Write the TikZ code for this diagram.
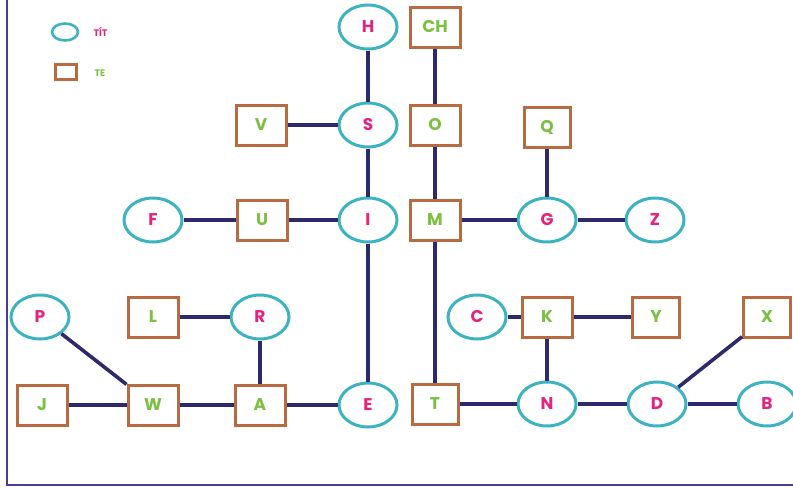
\documentclass[tikz,border=0pt]{standalone}
\usepackage{fontspec}
\setmainfont{Poppins}
\usetikzlibrary{shapes.geometric}
\definecolor{edgec}{HTML}{2C2A6A}
\definecolor{ellc}{HTML}{3DB3C2}
\definecolor{rectc}{HTML}{B86B40}
\definecolor{pinkc}{HTML}{E2247E}
\definecolor{greenc}{HTML}{7CC043}
\definecolor{framec}{HTML}{4A3C98}
\tikzset{
  tit/.style={ellipse, draw=ellc, line width=3pt, fill=white, minimum width=58pt, minimum height=44pt, inner sep=0pt, text=pinkc, font=\fontsize{17}{17}\selectfont\bfseries},
  te/.style={rectangle, draw=rectc, line width=3pt, fill=white, minimum width=50pt, minimum height=40pt, inner sep=0pt, text=greenc, font=\fontsize{17}{17}\selectfont\bfseries},
  link/.style={draw=edgec, line width=3.6pt},
}
\begin{document}
\begin{tikzpicture}[x=1pt,y=-1pt]
\useasboundingbox (0,0) rectangle (793,488);
\draw[framec, line width=2.5pt] (7,0) -- (7,485) -- (793,485);
% legend
\node[ellipse, draw=ellc, line width=2.6pt, minimum width=26pt, minimum height=17pt, inner sep=0pt] (legT) at (65,32) {};
\node[text=pinkc, font=\fontsize{9.5}{9.5}\selectfont\bfseries, anchor=west] (legTt) at (90,32) {TÍT};
\node[rectangle, draw=rectc, line width=2.6pt, minimum width=21pt, minimum height=15pt, inner sep=0pt] (legR) at (66,72) {};
\node[text=greenc, font=\fontsize{9.5}{9.5}\selectfont\bfseries, anchor=west] (legRt) at (91,73) {TE};
% nodes
\node[tit] (H) at (368,27) {H};
\node[te] (CH) at (435,27) {CH};
\node[te] (V) at (261,125) {V};
\node[tit] (S) at (368,125) {S};
\node[te] (O) at (435,125) {O};
\node[te, minimum width=46pt] (Q) at (547,127) {Q};
\node[tit] (F) at (153,220) {F};
\node[te] (U) at (262,220) {U};
\node[tit] (I) at (368,220) {I};
\node[te] (M) at (435,220) {M};
\node[tit] (G) at (547,220) {G};
\node[tit] (Z) at (655,220) {Z};
\node[tit] (P) at (40,317) {P};
\node[te] (L) at (153,317) {L};
\node[tit] (R) at (260,317) {R};
\node[tit] (C) at (477,317) {C};
\node[te] (K) at (547,317) {K};
\node[te, minimum width=47pt] (Y) at (656,317) {Y};
\node[te, minimum width=47pt] (X) at (767,317) {X};
\node[te] (J) at (42,405) {J};
\node[te] (W) at (153,405) {W};
\node[te] (A) at (260,405) {A};
\node[tit] (E) at (368,405) {E};
\node[te, minimum width=46pt] (T) at (435,404) {T};
\node[tit] (N) at (547,404) {N};
\node[tit] (D) at (657,404) {D};
\node[tit] (B) at (767,404) {B};
% links
\foreach \a/\b in {H/S, CH/O, V/S, S/I, O/M, Q/G, F/U, U/I, M/G, G/Z, I/E, M/T, P/W, L/R, R/A, C/K, K/Y, K/N, X/D, J/W, W/A, A/E, T/N, N/D, D/B}
  \draw[link] (\a) -- (\b);
\end{tikzpicture}
\end{document}
